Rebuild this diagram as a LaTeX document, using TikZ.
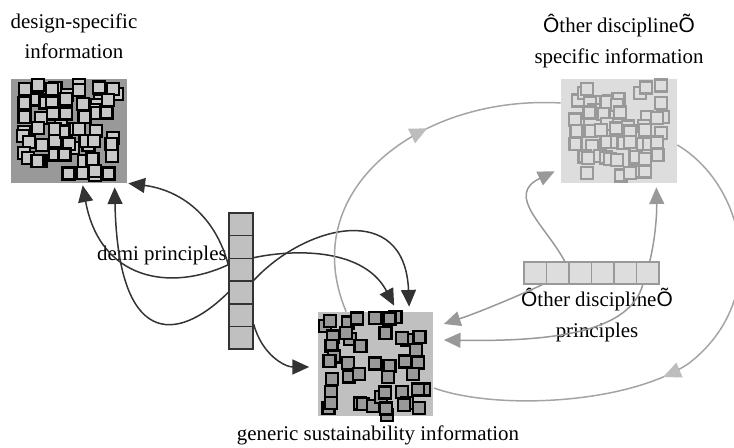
\documentclass[tikz,border=0pt]{standalone}
\usepackage{fontspec}
\setmainfont{Liberation Serif}
\newfontfamily\accfont{Liberation Sans}
\usetikzlibrary{arrows.meta,calc}
\usetikzlibrary{decorations.markings}

\definecolor{darkline}{HTML}{333333}
\definecolor{midgray}{HTML}{999999}
\definecolor{lightgray}{HTML}{DDDDDD}
\definecolor{boxgray}{HTML}{C0C0C0}
\definecolor{sqlight}{HTML}{C8C8C8}
\definecolor{loopgray}{HTML}{A4A4A4}
\definecolor{loophead}{HTML}{BDBDBD}

% field of overlapping squares: centre x, centre y, seed, fill, border
\newcommand{\squarefield}[5]{%
  \pgfmathsetseed{#3}
  \foreach \i in {0,...,6}{
    \foreach \j in {0,...,6}{
      \pgfmathtruncatemacro\sqgap{rnd<0.18}
      \pgfmathtruncatemacro\sqpair{rnd<0.35}
      \pgfmathsetmacro\sqx{#1-49+\i*14+(rnd-0.5)*7}
      \pgfmathsetmacro\sqy{#2-49+\j*14+(rnd-0.5)*7}
      \pgfmathsetmacro\sqdx{(rnd-0.5)*14}
      \pgfmathsetmacro\sqdy{(rnd-0.5)*14}
      \ifnum\sqgap=0
        \ifnum\sqpair=1
          \draw[fill=#4,draw=#5,line width=1.3pt] ({\sqx+\sqdx},{\sqy+\sqdy}) rectangle ++(12,12);
        \fi
        \draw[fill=#4,draw=#5,line width=1.3pt] (\sqx,\sqy) rectangle ++(12,12);
      \fi
    }
  }
}

\begin{document}
\begin{tikzpicture}[x=0.02cm,y=-0.02cm,>={Triangle[length=9.5pt,width=8.5pt]},
  infobox/.style={minimum width=2.32cm,minimum height=2.08cm,inner sep=0pt},
  demicell/.style={draw=darkline,fill=boxgray,line width=0.85pt,
    minimum width=0.48cm,minimum height=0.454cm,inner sep=0pt},
  othercell/.style={draw=midgray,fill=lightgray,line width=0.85pt,
    minimum width=0.45cm,minimum height=0.44cm,inner sep=0pt},
  txt/.style={font={\fontsize{11.9}{17.5}\selectfont},inner sep=0pt},
  darkarrow/.style={->,draw=darkline,line width=0.85pt},
  grayarrow/.style={->,draw=midgray,line width=0.85pt},
  looparrow/.style={draw=loopgray,line width=0.85pt,postaction={decorate},
    decoration={markings,mark=at position #1 with
      {\arrow[color=loophead]{Triangle[length=10pt,width=9pt]}}}}]
\useasboundingbox (0,0) rectangle (734,448);

% information boxes
\node[infobox,fill=midgray] (design) at (69,131) {};
\node[infobox,fill=lightgray] (other) at (619,131) {};
\node[infobox,fill=boxgray] (generic) at (375.5,364) {};
\squarefield{69}{131}{11}{sqlight}{black}
\squarefield{619}{131}{23}{lightgray}{midgray}
\squarefield{375.5}{364}{7}{midgray}{black}

% principles
\foreach \k in {1,...,6}
  \node[demicell] (dm\k) at (241,{213+22.7*(\k-0.5)}) {};
\foreach \k in {1,...,6}
  \node[othercell] (od\k) at ({524+22.5*(\k-0.5)},273) {};

% labels
\node[txt,align=center,anchor=north] (designlbl) at (74,13) {design-specific\\information};
\node[txt,align=center,anchor=north] (otherlbl) at (619,14)
  {{\accfont Ô}ther discipline{\accfont Õ}\\specific information};
\node[txt,anchor=east] (demilbl) at (227,255) {demi principles};
\node[txt,align=center] (odlbl) at (597,315)
  {{\accfont Ô}ther discipline{\accfont Õ}\\principles};
\node[txt] (genericlbl) at (378,435) {generic sustainability information};

% demi principles links
\draw[darkarrow] ($(dm3.west)+(0,-5)$) .. controls (170,292) and (100,280) .. ($(design.south west)+(72,2)$);
\draw[darkarrow] (dm4.west) .. controls (175,345) and (118,345) .. ($(design.south west)+(104,4)$);
\draw[darkarrow] ($(dm3.west)+(0,-5)$) .. controls (215,215) and (180,190) .. ($(design.south east)+(1,0)$);
\draw[darkarrow] (dm3.north east) .. controls (300,248) and (365,250) .. ($(generic.north west)+(77,-6)$);
\draw[darkarrow] (dm4.north east) .. controls (305,225) and (405,200) .. ($(generic.north west)+(92,-5)$);
\draw[darkarrow] ($(dm5.south east)+(0,-3)$) .. controls (262,355) and (285,367) .. ($(generic.west)+(-8,3)$);

% other discipline links
\draw[grayarrow] ($(od2.north)+(7,0)$) .. controls (545,225) and (505,195) .. ($(other.south west)+(-6,-12)$);
\draw[grayarrow] ($(od6.north)+(2,0)$) .. controls (655,240) and (657,215) .. ($(other.south east)+(-21,4)$);
\draw[grayarrow] ($(od1.south)+(7,0)$) .. controls (520,295) and (480,312) .. ($(generic.east)+(10,-40)$);
\draw[grayarrow] ($(od6.south)+(-5,0)$) .. controls (630,330) and (560,342) .. ($(generic.east)+(10,-24)$);

% exchange loop
\draw[looparrow=0.62] ($(generic.north west)+(29,0)$) .. controls (295,190) and (420,95) .. ($(other.west)+(0,-28)$);
\draw[looparrow=0.55] ($(other.east)+(0,14)$) .. controls (745,185) and (772,300) .. (688,364)
  .. controls (625,405) and (495,410) .. ($(generic.east)+(0,24)$);
\end{tikzpicture}
\end{document}
